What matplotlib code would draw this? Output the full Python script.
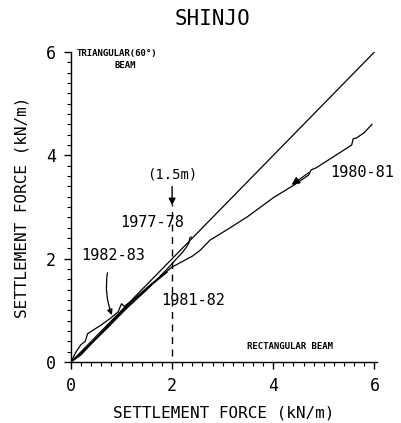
"""Settlement force comparison, Shinjo site (triangular vs rectangular beam)."""

import matplotlib

matplotlib.use("Agg")
import matplotlib.pyplot as plt

plt.rcParams["font.family"] = ["DejaVu Sans Mono"]

# 1:1 reference line
ref_x = [0.0, 6.0]
ref_y = [0.0, 6.0]

# seasonal records (rectangular beam on x, triangular on y)
x_7778 = [0.0, 0.3, 0.7, 1.1, 1.5, 1.9, 2.2, 2.28, 2.33, 2.35, 2.38]
y_7778 = [0.0, 0.26, 0.64, 1.04, 1.40, 1.80, 2.12, 2.22, 2.30, 2.40, 2.42]

x_8081 = [0.0, 0.4, 0.8, 1.2, 1.6, 2.0, 2.4, 2.55, 2.75, 3.1, 3.5, 4.0, 4.4,
          4.7, 4.75, 4.85, 5.2, 5.55, 5.58, 5.65, 5.8, 5.95]
y_8081 = [0.0, 0.36, 0.78, 1.18, 1.52, 1.84, 2.05, 2.16, 2.36, 2.57, 2.82,
          3.18, 3.42, 3.62, 3.72, 3.76, 3.98, 4.20, 4.32, 4.34, 4.44, 4.60]

x_8182 = [0.0, 0.2, 0.5, 0.9, 1.3, 1.6, 1.9]
y_8182 = [0.0, 0.14, 0.46, 0.86, 1.24, 1.50, 1.74]

x_8283 = [0.0, 0.1, 0.2, 0.28, 0.33, 0.44, 0.57, 0.77, 0.93, 1.0, 1.05,
          1.2, 1.36, 1.6]
y_8283 = [0.0, 0.2, 0.34, 0.40, 0.55, 0.62, 0.70, 0.84, 0.97, 1.13, 1.08,
          1.18, 1.30, 1.52]

x_ticks = [0, 2, 4, 6]
y_ticks = [0, 2, 4, 6]


fig = plt.figure(figsize=(4.01, 4.23), dpi=100)
ax = fig.add_axes([0.177, 0.144, 0.763, 0.733])

lw = 0.9
ax.plot(ref_x, ref_y, color="black", lw=lw)
ax.plot(x_7778, y_7778, color="black", lw=lw)
ax.plot(x_8081, y_8081, color="black", lw=lw)
ax.plot(x_8182, y_8182, color="black", lw=lw)
ax.plot(x_8283, y_8283, color="black", lw=lw)

# dashed marker at 2 kN/m (1.5 m) with arrow
ax.plot([2, 2], [0.12, 3.05], color="black", lw=1.0, ls=(0, (5, 4)))
ax.annotate("", xy=(2, 2.98), xytext=(2, 3.45),
            arrowprops=dict(arrowstyle="-|>", color="black", lw=1.0,
                            mutation_scale=10))
ax.text(2, 3.63, "(1.5m)", ha="center", va="center", fontsize=10)

ax.text(1.6, 2.7, "1977-78", ha="center", va="center", fontsize=11)
ax.text(5.75, 3.66, "1980-81", ha="center", va="center", fontsize=11)
ax.text(2.42, 1.2, "1981-82", ha="center", va="center", fontsize=11)
ax.text(0.83, 2.07, "1982-83", ha="center", va="center", fontsize=11)

ax.annotate("", xy=(0.83, 0.86), xytext=(0.73, 1.78),
            arrowprops=dict(arrowstyle="-|>", color="black", lw=0.9,
                            mutation_scale=8,
                            connectionstyle="arc3,rad=0.15"))
ax.annotate("", xy=(4.32, 3.40), xytext=(4.75, 3.70),
            arrowprops=dict(arrowstyle="-|>", color="black", lw=0.8,
                            mutation_scale=12, facecolor="white"))

ax.text(0.12, 5.98, "TRIANGULAR(60°)", ha="left", va="center",
        fontsize=6.5, fontweight="bold")
ax.text(1.08, 5.73, "BEAM", ha="center", va="center",
        fontsize=6.5, fontweight="bold")
ax.text(5.18, 0.3, "RECTANGULAR BEAM", ha="right", va="center",
        fontsize=6.5, fontweight="bold")

ax.set_xlim(0, 6.05)
ax.set_ylim(0, 6.0)
ax.set_xticks(x_ticks)
ax.set_yticks(y_ticks)
ax.set_xticks([i * 0.2 for i in range(31)], minor=True)
ax.set_yticks([i * 0.2 for i in range(31)], minor=True)
ax.tick_params(which="major", direction="out", length=5, width=1,
               labelsize=12, pad=6)
ax.tick_params(which="minor", direction="out", length=3, width=0.8)

for side in ("top", "right"):
    ax.spines[side].set_visible(False)
for side in ("left", "bottom"):
    ax.spines[side].set_linewidth(1.0)

ax.set_xlabel("SETTLEMENT FORCE (kN/m)", fontsize=11.5, labelpad=7)
ax.set_ylabel("SETTLEMENT FORCE (kN/m)", fontsize=11.5, labelpad=12)
fig.text(0.53, 0.955, "SHINJO", ha="center", va="center", fontsize=15)

fig.savefig("out.png", dpi=100)
